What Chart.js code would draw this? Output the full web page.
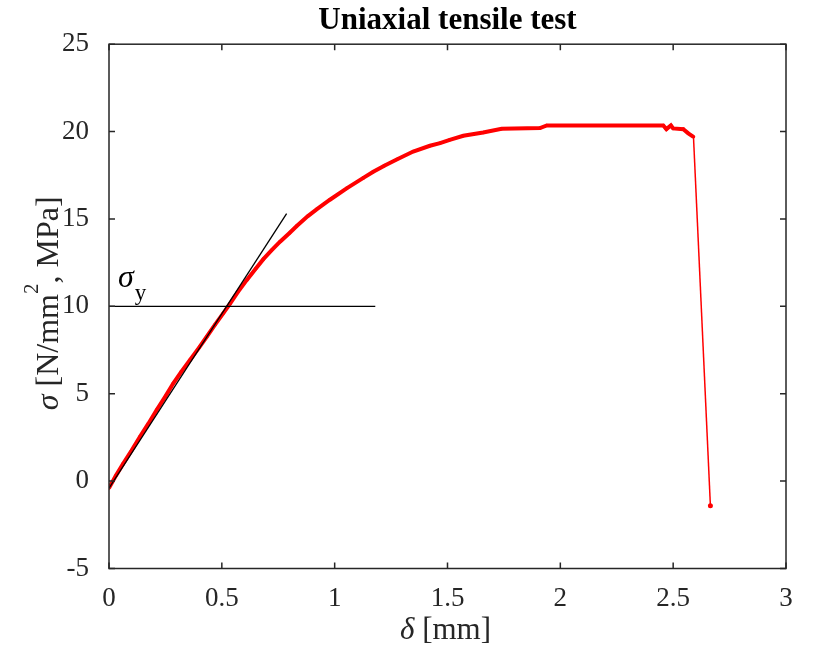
<!DOCTYPE html>
<html>
<head>
<meta charset="utf-8">
<script src="https://cdn.jsdelivr.net/npm/chart.js@4.4.1/dist/chart.umd.min.js"></script>
<style>
  html, body { margin: 0; padding: 0; background: #fff; }
</style>
</head>
<body>
<canvas id="tensileChart" width="834" height="651"></canvas>
<script>
// measured curve, delta [mm]
const deltaMm = [0.00, 0.03, 0.063, 0.10, 0.137, 0.175, 0.211, 0.25, 0.285, 0.32, 0.359, 0.40,
    0.433, 0.47, 0.506, 0.536, 0.57, 0.61, 0.65, 0.684, 0.72, 0.758, 0.80, 0.832, 0.88, 0.92,
    0.979, 1.053, 1.127, 1.171, 1.22, 1.275, 1.348, 1.422, 1.467, 1.51, 1.57, 1.658, 1.74,
    1.91, 1.94, 2.456, 2.47, 2.49, 2.50, 2.545, 2.567, 2.59];
// stress sigma [MPa]
const sigmaMpa = [-0.40, 0.30, 1.00, 1.75, 2.54, 3.30, 4.07, 4.85, 5.60, 6.25, 6.93, 7.65,
    8.26, 8.95, 9.60, 10.15, 10.80, 11.50, 12.15, 12.70, 13.20, 13.70, 14.20, 14.60, 15.15, 15.55,
    16.10, 16.75, 17.35, 17.70, 18.05, 18.40, 18.86, 19.19, 19.34, 19.53, 19.76, 19.95, 20.16,
    20.20, 20.35, 20.35, 20.14, 20.35, 20.18, 20.14, 19.90, 19.70];
// fracture: last point before rupture and end point
const fractureDelta = [2.59, 2.665];
const fractureSigma = [19.70, -1.41];
// elastic tangent line and yield level
const tangentDelta = [0.00, 0.787];
const tangentSigma = [-0.40, 15.30];
const yieldDelta = [0.00, 1.18];
const yieldSigma = [10.0, 10.0];

const xTicks = [0, 0.5, 1, 1.5, 2, 2.5, 3];
const yTicks = [-5, 0, 5, 10, 15, 20, 25];

const toPoints = (xs, ys) => xs.map((x, i) => ({ x: x, y: ys[i] }));

const serif = 'Liberation Serif, Times New Roman, serif';
const axisColor = '#262626';

function drawRuns(ctx, runs, x, y, align) {
    let total = 0;
    runs.forEach(r => { ctx.font = r.font; total += ctx.measureText(r.text).width; });
    let cx = align === 'center' ? x - total / 2 : x;
    runs.forEach(r => {
        ctx.font = r.font;
        ctx.fillText(r.text, cx, y + (r.dy || 0));
        cx += ctx.measureText(r.text).width;
    });
}

// MATLAB-like box with inward ticks, plus axis labels and the sigma_y note
const matlabAxes = {
    id: 'matlabAxes',
    afterDraw(chart) {
        const { ctx, chartArea: a, scales } = chart;
        const xs = scales.x, ys = scales.y;
        const tl = 6;
        ctx.save();
        ctx.strokeStyle = axisColor;
        ctx.lineWidth = 1.5;
        ctx.strokeRect(a.left, a.top, a.right - a.left, a.bottom - a.top);
        ctx.beginPath();
        xTicks.forEach(v => {
            const px = xs.getPixelForValue(v);
            ctx.moveTo(px, a.bottom); ctx.lineTo(px, a.bottom - tl);
            ctx.moveTo(px, a.top); ctx.lineTo(px, a.top + tl);
        });
        yTicks.forEach(v => {
            const py = ys.getPixelForValue(v);
            ctx.moveTo(a.left, py); ctx.lineTo(a.left + tl, py);
            ctx.moveTo(a.right, py); ctx.lineTo(a.right - tl, py);
        });
        ctx.stroke();

        ctx.fillStyle = axisColor;
        ctx.textBaseline = 'alphabetic';
        ctx.textAlign = 'left';

        // x label
        drawRuns(ctx, [
            { text: 'δ', font: 'italic 31px ' + serif },
            { text: ' [mm]', font: '31px ' + serif }
        ], (a.left + a.right) / 2 - 2, 639, 'center');

        // y label, rotated
        ctx.save();
        ctx.translate(58, (a.top + a.bottom) / 2 - 3);
        ctx.rotate(-Math.PI / 2);
        drawRuns(ctx, [
            { text: 'σ', font: 'italic 32px ' + serif },
            { text: ' [N/mm', font: '32px ' + serif },
            { text: '2', font: '21px ' + serif, dy: -20 },
            { text: ', MPa]', font: '32px ' + serif }
        ], 0, 0, 'center');
        ctx.restore();

        // sigma_y annotation
        const sx = xs.getPixelForValue(0.04);
        const sy = ys.getPixelForValue(11.1);
        ctx.fillStyle = '#000';
        ctx.font = 'italic 32px ' + serif;
        ctx.fillText('σ', sx, sy);
        const w = ctx.measureText('σ').width;
        ctx.font = '23px ' + serif;
        ctx.fillText('y', sx + w + 1, sy + 13);
        ctx.restore();
    }
};

const ctx = document.getElementById('tensileChart').getContext('2d');
new Chart(ctx, {
    type: 'scatter',
    data: {
        datasets: [
            {
                label: 'Tensile curve',
                data: toPoints(deltaMm, sigmaMpa),
                showLine: true,
                borderColor: '#ff0000',
                backgroundColor: '#ff0000',
                borderWidth: 4,
                pointRadius: 1.8,
                pointBorderWidth: 0,
                order: 2
            },
            {
                label: 'Fracture',
                data: toPoints(fractureDelta, fractureSigma),
                showLine: true,
                borderColor: '#ff0000',
                backgroundColor: '#ff0000',
                borderWidth: 1.5,
                pointRadius: [0, 2.5],
                pointBorderWidth: 0,
                order: 2
            },
            {
                label: 'Elastic tangent',
                data: toPoints(tangentDelta, tangentSigma),
                showLine: true,
                borderColor: '#000',
                borderWidth: 1.3,
                pointRadius: 0,
                order: 1
            },
            {
                label: 'Yield',
                data: toPoints(yieldDelta, yieldSigma),
                showLine: true,
                borderColor: '#000',
                borderWidth: 1.3,
                pointRadius: 0,
                order: 1
            }
        ]
    },
    options: {
        responsive: false,
        animation: false,
        layout: { padding: { left: 0, right: 48, top: 0, bottom: 0 } },
        scales: {
            x: {
                type: 'linear',
                min: 0,
                max: 3,
                afterBuildTicks: s => { s.ticks = xTicks.map(v => ({ value: v })); },
                afterFit: s => { s.height = 82.5; },
                ticks: {
                    padding: 6,
                    maxRotation: 0,
                    autoSkip: false,
                    color: axisColor,
                    font: { family: serif, size: 27 },
                    callback: v => String(v)
                },
                grid: { display: false },
                border: { display: false }
            },
            y: {
                type: 'linear',
                min: -5,
                max: 25,
                afterBuildTicks: s => { s.ticks = yTicks.map(v => ({ value: v })); },
                afterFit: s => { s.width = 109; },
                ticks: {
                    padding: 12,
                    color: axisColor,
                    font: { family: serif, size: 27 },
                    callback: v => String(v)
                },
                grid: { display: false },
                border: { display: false }
            }
        },
        plugins: {
            legend: { display: false },
            tooltip: { enabled: false },
            title: {
                display: true,
                text: 'Uniaxial tensile test',
                fullSize: false,
                color: '#000',
                font: { family: serif, size: 31, weight: 'bold' },
                padding: { top: 2, bottom: 5 }
            }
        }
    },
    plugins: [matlabAxes]
});
</script>
</body>
</html>
